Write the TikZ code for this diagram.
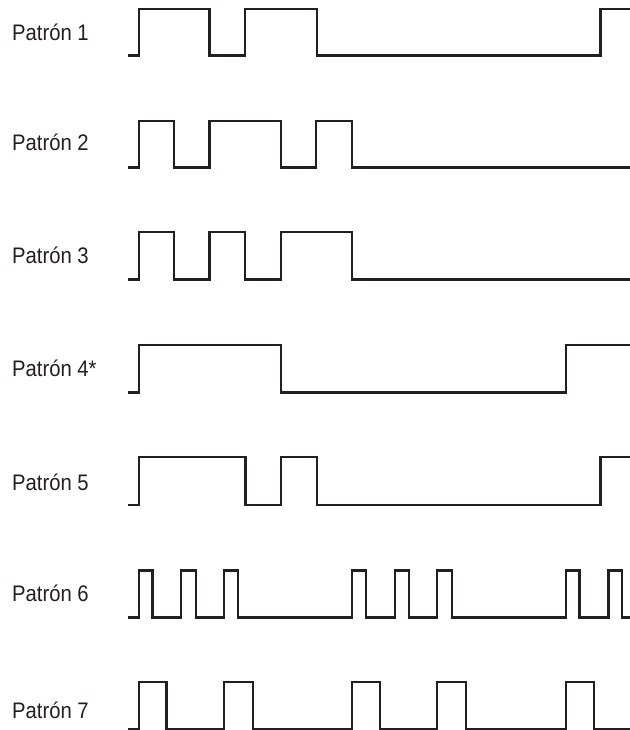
\documentclass[tikz,border=0pt]{standalone}
\usepackage{fontspec}
\newfontfamily\labfont{Liberation Sans}[FakeStretch=0.9]
\definecolor{ink}{HTML}{231F20}
\tikzset{
  lab/.style={anchor=base west, inner sep=0pt, text=ink, font=\labfont\fontsize{22.5}{25}\selectfont},
  wave/.style={draw=ink, line width=2.2pt, line join=miter}
}
\begin{document}
\begin{tikzpicture}[x=1pt,y=-1pt]
\useasboundingbox (0,0) rectangle (629,730);
% labels
\node[lab] (l1) at (12,40.7) {Patrón 1};
\node[lab] (l2) at (12,151) {Patrón 2};
\node[lab] (l3) at (12,263.3) {Patrón 3};
\node[lab] (l4) at (12,376.5) {Patrón 4*};
\node[lab] (l5) at (12,490) {Patrón 5};
\node[lab] (l6) at (12,601.5) {Patrón 6};
\node[lab] (l7) at (12,718.5) {Patrón 7};
% Patrón 1
\path[wave] (128.4,55.5) -| (139.2,9) -| (209.4,55.5) -| (244.7,9) -| (316.9,55.5) -| (600.5,9) -- (632,9);
% Patrón 2
\path[wave] (128.4,167.5) -| (139.2,120.7) -| (173.7,167.5) -| (209.4,120.7) -| (280.8,167.5) -| (316.1,120.7) -| (351.8,167.5) -- (632,167.5);
% Patrón 3
\path[wave] (128.4,279.5) -| (139.2,232.3) -| (173.7,279.5) -| (209.4,232.3) -| (244.7,279.5) -| (280.8,232.3) -| (351.8,279.5) -- (632,279.5);
% Patrón 4
\path[wave] (128.4,392.5) -| (139.2,345) -| (280.8,392.5) -| (565.6,345) -- (632,345);
% Patrón 5
\path[wave] (128.4,505.3) -| (139.2,457.3) -| (245.5,505.3) -| (280.8,457.3) -| (316.9,505.3) -| (600.5,457.3) -- (632,457.3);
% Patrón 6
\path[wave] (128.4,617.5) -| (139.2,570.5) -| (152.4,617.5) -| (181.3,570.5) -| (195.7,617.5) -| (223.8,570.5) -| (237.9,617.5)
  -| (352.2,570.5) -| (366.2,617.5) -| (395.1,570.5) -| (409.2,617.5) -| (437.2,570.5) -| (452.1,617.5)
  -| (566,570.5) -| (579.5,617.5) -| (608.5,570.5) -| (622,617.5) -- (632,617.5);
% Patrón 7
\path[wave] (128.4,729) -| (139.2,682) -| (166.5,729) -| (223.8,682) -| (252.7,729) -| (352.2,682) -| (380.3,729)
  -| (437.2,682) -| (466.1,729) -| (565.8,682) -| (594,729) -- (632,729);
\end{tikzpicture}
\end{document}
